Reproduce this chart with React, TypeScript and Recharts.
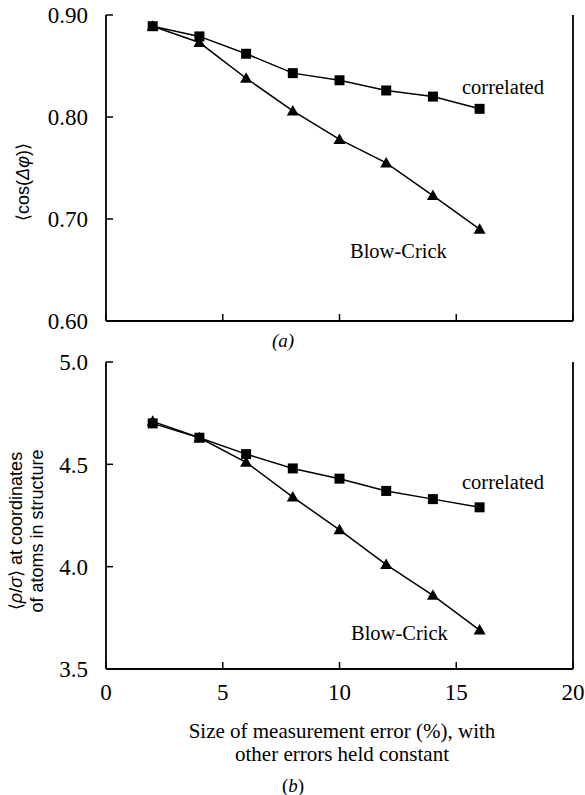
import { LineChart, Line, XAxis, YAxis } from "recharts";

const errorPct = [2, 4, 6, 8, 10, 12, 14, 16];
const cosCorrelated = [0.889, 0.879, 0.862, 0.843, 0.836, 0.826, 0.82, 0.808];
const cosBlowCrick = [0.889, 0.873, 0.838, 0.806, 0.778, 0.755, 0.723, 0.69];
const rhoCorrelated = [4.7, 4.63, 4.55, 4.48, 4.43, 4.37, 4.33, 4.29];
const rhoBlowCrick = [4.71, 4.63, 4.51, 4.34, 4.18, 4.01, 3.86, 3.69];
const xTicks = [0, 5, 10, 15, 20];
const cosTicks = [0.6, 0.7, 0.8, 0.9];
const rhoTicks = [3.5, 4.0, 4.5, 5.0];

const cosData = errorPct.map((x, i) => ({ x, correlated: cosCorrelated[i], blowCrick: cosBlowCrick[i] }));
const rhoData = errorPct.map((x, i) => ({ x, correlated: rhoCorrelated[i], blowCrick: rhoBlowCrick[i] }));

const SERIF = "Liberation Serif";
const SANS = "Liberation Sans";
const TICK = 7;

const LeftTick = (props: any) => {
  const { x, y, payload, digits } = props;
  const axisX = x + 18;
  return (
    <g>
      <line x1={axisX} x2={axisX + TICK} y1={y} y2={y} stroke="#000" strokeWidth={1.5} />
      <text x={x} y={y} dy="0.36em" textAnchor="end" style={{ fontFamily: SERIF, fontSize: 23 }} fill="#000">
        {Number(payload.value).toFixed(digits)}
      </text>
    </g>
  );
};

const RightTick = (props: any) => {
  const { x, y } = props;
  return <line x1={x - TICK} x2={x} y1={y} y2={y} stroke="#000" strokeWidth={1.5} />;
};

const BottomTick = (props: any) => {
  const { x, y, payload, showLabel } = props;
  const axisY = y - 14;
  return (
    <g>
      <line x1={x} x2={x} y1={axisY - TICK} y2={axisY} stroke="#000" strokeWidth={1.5} />
      {showLabel && (
        <text x={x} y={y} dy="0.72em" textAnchor="middle" style={{ fontFamily: SERIF, fontSize: 23 }} fill="#000">
          {payload.value}
        </text>
      )}
    </g>
  );
};

const squareDot = (p: any) => (
  <rect key={`s${p.index}`} x={p.cx - 5} y={p.cy - 5} width={10} height={10} fill="#000" />
);

const triangleDot = (p: any) => (
  <path
    key={`t${p.index}`}
    d={`M${p.cx},${p.cy - 6} L${p.cx + 6},${p.cy + 4.5} L${p.cx - 6},${p.cy + 4.5} Z`}
    fill="#000"
  />
);

const Panel = ({ data, ticks, digits, height, top, bottomAxisHeight, showX }: any) => (
  <LineChart
    width={585}
    height={height}
    data={data}
    margin={{ top, right: 0, left: 0, bottom: 0 }}
  >
    <XAxis
      dataKey="x"
      type="number"
      domain={[0, 20]}
      ticks={xTicks}
      interval={0}
      height={bottomAxisHeight}
      tickSize={0}
      tickMargin={14}
      axisLine={{ stroke: "#000", strokeWidth: 1.8 }}
      tick={<BottomTick showLabel={showX} />}
    />
    <YAxis
      type="number"
      domain={[ticks[0], ticks[ticks.length - 1]]}
      ticks={ticks}
      interval={0}
      width={106}
      tickSize={0}
      tickMargin={18}
      axisLine={{ stroke: "#000", strokeWidth: 1.8 }}
      tick={<LeftTick digits={digits} />}
    />
    <YAxis
      yAxisId="r"
      orientation="right"
      type="number"
      domain={[ticks[0], ticks[ticks.length - 1]]}
      ticks={ticks}
      interval={0}
      width={12}
      tickSize={0}
      tickMargin={0}
      axisLine={{ stroke: "#000", strokeWidth: 1.8 }}
      tick={<RightTick />}
    />
    <Line dataKey="correlated" stroke="#000" strokeWidth={1.5} dot={squareDot} isAnimationActive={false} />
    <Line dataKey="blowCrick" stroke="#000" strokeWidth={1.5} dot={triangleDot} isAnimationActive={false} />
  </LineChart>
);

const Txt = ({ left, top, children, style }: any) => (
  <div
    style={{
      position: "absolute",
      left,
      top,
      transform: "translateY(-50%)",
      whiteSpace: "nowrap",
      fontFamily: SERIF,
      fontSize: 20.5,
      lineHeight: 1,
      ...style,
    }}
  >
    {children}
  </div>
);

export default function App() {
  return (
    <div style={{ position: "absolute", left: 0, top: 0, width: 585, height: 795, background: "#fff" }}>
      <div style={{ position: "absolute", left: 0, top: 0 }}>
        <Panel data={cosData} ticks={cosTicks} digits={2} height={340} top={15} bottomAxisHeight={19} showX={false} />
      </div>
      <div style={{ position: "absolute", left: 0, top: 340 }}>
        <Panel data={rhoData} ticks={rhoTicks} digits={1} height={455} top={22} bottomAxisHeight={126} showX={true} />
      </div>

      <Txt left={462} top={87}>correlated</Txt>
      <Txt left={350} top={251}>Blow-Crick</Txt>
      <Txt left={462} top={482}>correlated</Txt>
      <Txt left={351} top={633}>Blow-Crick</Txt>

      <Txt left={283} top={340} style={{ transform: "translate(-50%,-50%)", fontStyle: "italic", fontSize: 19 }}>
        (a)
      </Txt>
      <Txt left={293} top={785} style={{ transform: "translate(-50%,-50%)", fontSize: 19 }}>
        (<i>b</i>)
      </Txt>

      <div
        style={{
          position: "absolute",
          left: 342,
          top: 743,
          transform: "translate(-50%,-50%)",
          textAlign: "center",
          whiteSpace: "nowrap",
          fontFamily: SERIF,
          fontSize: 21,
          lineHeight: "23px",
        }}
      >
        Size of measurement error (%), with
        <br />
        other errors held constant
      </div>

      <div
        style={{
          position: "absolute",
          left: 23,
          top: 182,
          transform: "translate(-50%,-50%) rotate(-90deg)",
          whiteSpace: "nowrap",
          fontFamily: SANS,
          fontSize: 18,
        }}
      >
        ⟨cos(<i>Δφ</i>)⟩
      </div>
      <div
        style={{
          position: "absolute",
          left: 27,
          top: 531,
          transform: "translate(-50%,-50%) rotate(-90deg)",
          whiteSpace: "nowrap",
          textAlign: "center",
          fontFamily: SANS,
          fontSize: 18,
          lineHeight: "21px",
        }}
      >
        ⟨<i>ρ</i>/<i>σ</i>⟩ at coordinates
        <br />
        of atoms in structure
      </div>
    </div>
  );
}
